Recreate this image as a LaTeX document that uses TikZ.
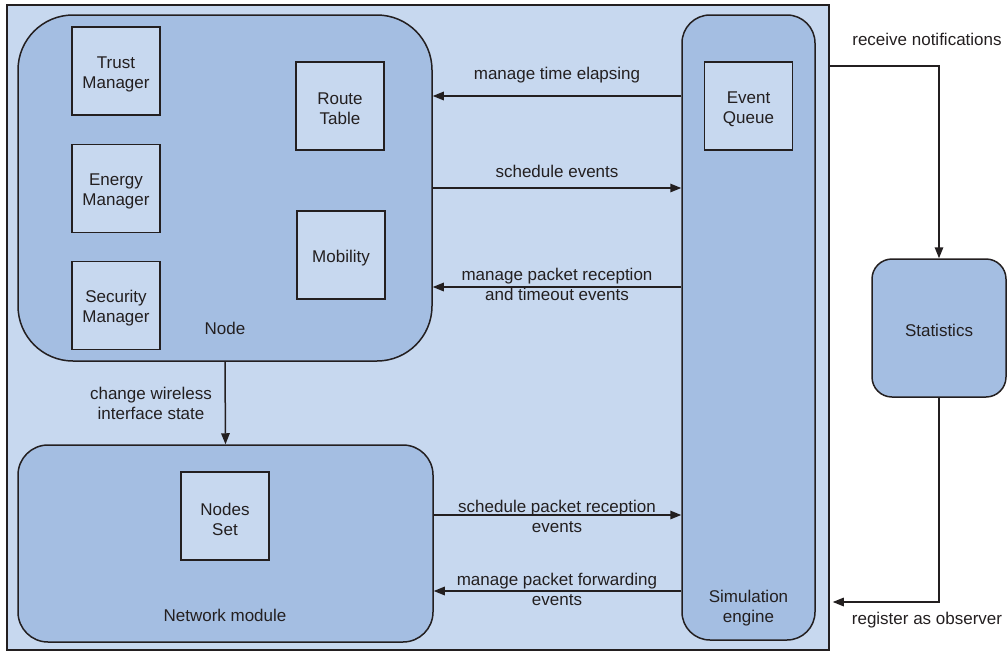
\documentclass[tikz,border=0pt]{standalone}
\usepackage{fontspec}
\setmainfont{Liberation Sans}
\usetikzlibrary{arrows.meta}
\definecolor{panel}{RGB}{199,216,239}
\definecolor{modfill}{RGB}{164,190,226}
\definecolor{ink}{RGB}{35,31,32}

\begin{document}
\begin{tikzpicture}[x=1pt,y=-1pt,
  every node/.style={font=\fontsize{17}{20}\selectfont, text=ink, align=center, inner sep=0pt},
  box/.style={draw=ink, line width=1.5pt, fill=panel, minimum width=88pt, minimum height=88pt,
    label={[yshift=-3pt]center:#1}},
  module/.style={draw=ink, line width=1.5pt, fill=modfill},
  arr/.style={draw=ink, line width=1.5pt, -{Triangle[length=11pt,width=8.5pt]}},
]
\useasboundingbox (0,0) rectangle (1007,651);

% system frame
\node[draw=ink, line width=1.5pt, fill=panel, minimum width=822pt, minimum height=645pt] (sys) at (418,327.5) {};

% modules
\node[module, rounded corners=55pt, minimum width=414pt, minimum height=346pt] (node) at (225,188) {};
\node[module, rounded corners=30pt, minimum width=415pt, minimum height=197pt] (net) at (225.5,543.5) {};
\node[module, rounded corners=28pt, minimum width=133pt, minimum height=625pt] (sim) at (748.5,327.5) {};
\node[module, rounded corners=20pt, minimum width=134pt, minimum height=138pt,
  label={[yshift=-2pt]center:Statistics}] (stats) at (939,328) {};

% components
\node[box={Trust\\Manager}] (trust) at (116,71) {};
\node[box={Energy\\Manager}] (energy) at (116,188.5) {};
\node[box={Security\\Manager}] (security) at (116,305.5) {};
\node[box={Route\\Table}] (route) at (340,106) {};
\node[box={Mobility}] (mobility) at (341,255) {};
\node[box={Nodes\\Set}] (nodeset) at (225,516) {};
\node[box={Event\\Queue}] (queue) at (748.5,106) {};

% module captions
\node (nodelbl) at (225,328.5) {Node};
\node (netlbl) at (225,615) {Network module};
\node (simlbl) at (748.5,608.5) {Simulation\\engine};

% interactions with the simulation engine
\draw[arr] (sim.west |- 0,96) -- (node.east |- 0,96);
\node (l1) at (557,75.5) {manage time elapsing};
\draw[arr] (node.east |- 0,188) -- (sim.west |- 0,188);
\node (l2) at (557,171.5) {schedule events};
\draw[arr] (sim.west |- 0,287) -- (node.east |- 0,287);
\node (l3) at (557,284.5) {manage packet reception\\and timeout events};
\draw[arr] (net.east |- 0,515) -- (sim.west |- 0,515);
\node (l4) at (557,516.5) {schedule packet reception\\events};
\draw[arr] (sim.west |- 0,591) -- (net.east |- 0,591);
\node (l5) at (557,589) {manage packet forwarding\\events};

% node to network module
\draw[arr] (node.south) -- (net.north);
\node (l6) at (151,403.5) {change wireless\\interface state};

% observer link with statistics
\coordinate (rx) at (sys.east |- 0,66);
\coordinate (obs) at ([xshift=3pt]sys.east |- 0,602);
\draw[arr] (rx) -| (stats.north);
\draw[arr] (stats.south) |- (obs);
\node (l7) at (927,39.5) {receive notifications};
\node (l8) at (927,620) {register as observer};
\end{tikzpicture}
\end{document}
